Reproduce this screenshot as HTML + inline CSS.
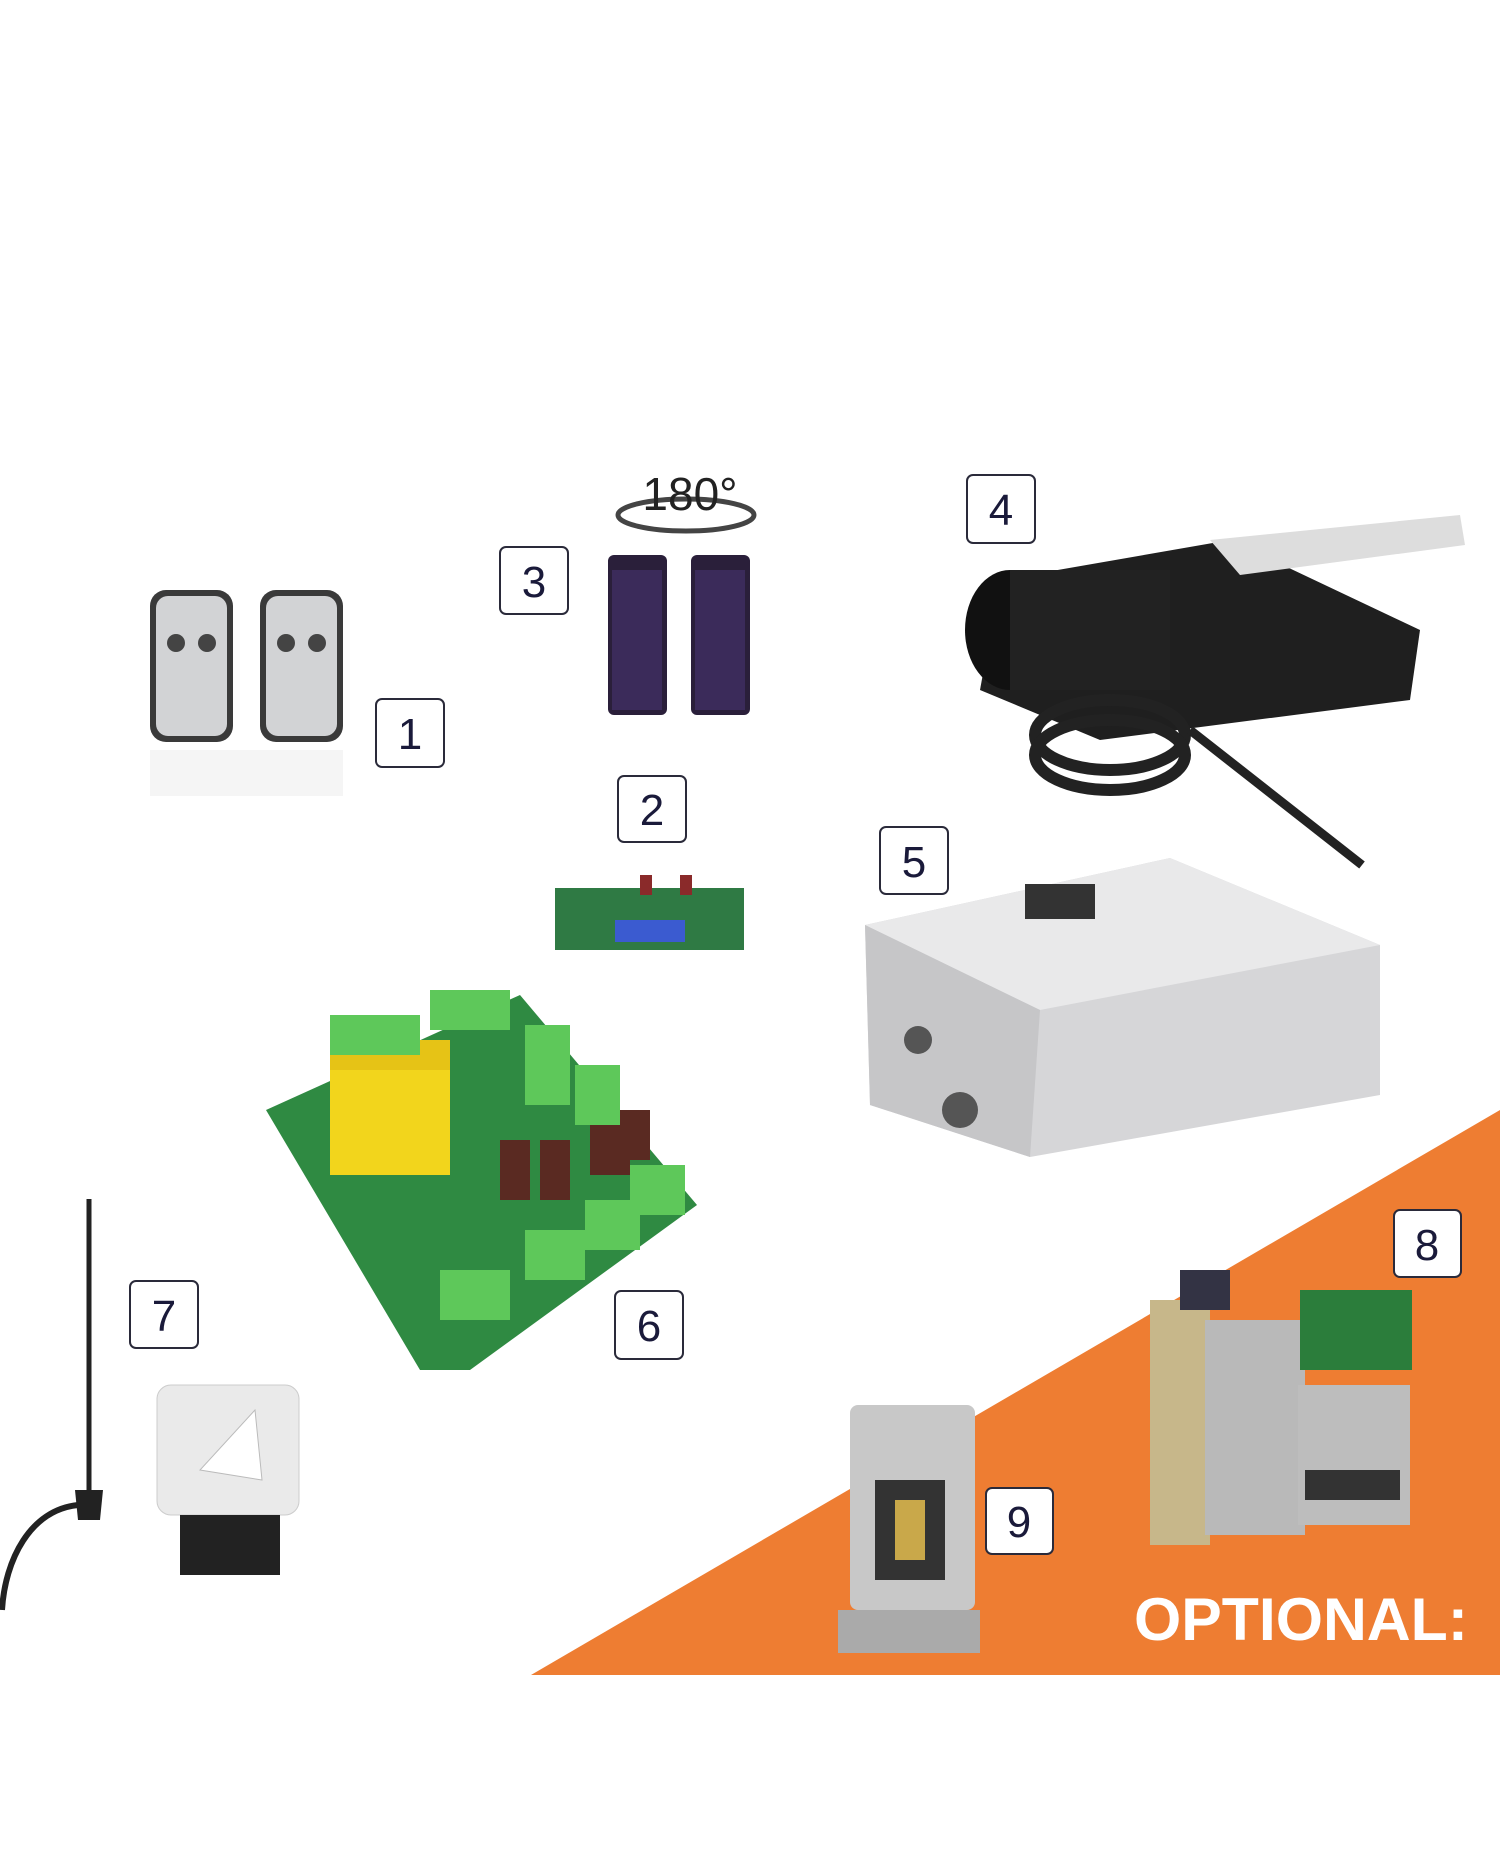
<!DOCTYPE html>
<html><head><meta charset="utf-8"><style>
html,body{margin:0;padding:0;background:#fff;}
svg{display:block}
.n{font-family:"Liberation Sans",sans-serif;font-size:44px;fill:#1a1a3a;text-anchor:middle}
</style></head><body>
<svg width="1500" height="1852" viewBox="0 0 1500 1852" xmlns="http://www.w3.org/2000/svg">
<rect width="1500" height="1852" fill="#fff"/>
<polygon points="531,1675 1500,1110 1500,1675" fill="#ee7d32"/>
<text x="1134" y="1640" font-family="Liberation Sans,sans-serif" font-weight="bold" font-size="60" fill="#fff" textLength="334" lengthAdjust="spacingAndGlyphs">OPTIONAL:</text>

<g>
<rect x="150" y="590" width="83" height="152" rx="16" fill="#3a3a3a"/>
<rect x="156" y="596" width="71" height="140" rx="12" fill="#d2d3d5"/>
<circle cx="176" cy="643" r="9" fill="#444"/><circle cx="207" cy="643" r="9" fill="#444"/>
<rect x="260" y="590" width="83" height="152" rx="16" fill="#3a3a3a"/>
<rect x="266" y="596" width="71" height="140" rx="12" fill="#d2d3d5"/>
<circle cx="286" cy="643" r="9" fill="#444"/><circle cx="317" cy="643" r="9" fill="#444"/>
<rect x="150" y="750" width="193" height="46" fill="#eee" opacity="0.6"/>
</g>

<ellipse cx="686" cy="515" rx="68" ry="16" fill="none" stroke="#444" stroke-width="5"/>
<text x="690" y="510" font-family="Liberation Sans,sans-serif" font-size="46" fill="#222" text-anchor="middle">180°</text>
<rect x="608" y="555" width="59" height="160" rx="6" fill="#2a1f3a"/>
<rect x="691" y="555" width="59" height="160" rx="6" fill="#2a1f3a"/>
<rect x="612" y="570" width="50" height="140" fill="#3b2b5a"/>
<rect x="695" y="570" width="50" height="140" fill="#3b2b5a"/>

<rect x="555" y="888" width="189" height="62" fill="#2f7a44"/>
<rect x="615" y="920" width="70" height="22" fill="#3b5bd0"/>
<rect x="640" y="875" width="12" height="20" fill="#8a2a2a"/><rect x="680" y="875" width="12" height="20" fill="#8a2a2a"/>

<polygon points="1000,580 1230,540 1420,630 1410,700 1100,740 980,690" fill="#1f1f1f"/>
<ellipse cx="1010" cy="630" rx="45" ry="60" fill="#111"/>
<rect x="1010" y="570" width="160" height="120" fill="#222"/>
<polygon points="1210,540 1460,515 1465,545 1240,575" fill="#ddd"/>
<ellipse cx="1110" cy="735" rx="75" ry="35" fill="none" stroke="#222" stroke-width="12"/>
<ellipse cx="1110" cy="755" rx="75" ry="35" fill="none" stroke="#222" stroke-width="12"/>
<line x1="1190" y1="730" x2="1362" y2="865" stroke="#222" stroke-width="9"/>

<polygon points="865,925 1170,858 1380,945 1380,1095 1030,1157 870,1105" fill="#d6d6d8"/>
<polygon points="865,925 1170,858 1380,945 1040,1010" fill="#e9e9ea"/>
<polygon points="865,925 1040,1010 1030,1157 870,1105" fill="#c6c6c8"/>
<circle cx="918" cy="1040" r="14" fill="#555"/><circle cx="960" cy="1110" r="18" fill="#555"/>
<rect x="1025" y="884" width="70" height="35" fill="#333"/>

<polygon points="266,1110 520,995 697,1205 470,1370 420,1370" fill="#2f8a42"/>
<rect x="330" y="1040" width="120" height="135" fill="#f2d51c"/>
<rect x="330" y="1040" width="120" height="30" fill="#e6c316"/>
<g fill="#5ec85a">
<rect x="330" y="1015" width="90" height="40"/><rect x="430" y="990" width="80" height="40"/>
<rect x="525" y="1025" width="45" height="80"/><rect x="575" y="1065" width="45" height="60"/>
<rect x="525" y="1230" width="60" height="50"/><rect x="585" y="1200" width="55" height="50"/>
<rect x="630" y="1165" width="55" height="50"/><rect x="440" y="1270" width="70" height="50"/>
</g>
<g fill="#5a2a22"><rect x="500" y="1140" width="30" height="60"/><rect x="540" y="1140" width="30" height="60"/><rect x="590" y="1125" width="40" height="50"/><rect x="620" y="1110" width="30" height="50"/></g>

<line x1="89" y1="1199" x2="89" y2="1490" stroke="#222" stroke-width="5"/>
<path d="M75,1490 L103,1490 L100,1520 L78,1520 Z" fill="#222"/>
<path d="M78,1505 C30,1510 5,1560 2,1610" stroke="#222" stroke-width="6" fill="none"/>

<rect x="157" y="1385" width="142" height="130" rx="14" fill="#eaeaea" stroke="#ccc"/>
<polygon points="255,1410 262,1480 200,1470" fill="#fff" stroke="#bbb"/>
<rect x="180" y="1515" width="100" height="60" fill="#222"/>

<rect x="1150" y="1300" width="60" height="245" fill="#c7b78a"/>
<rect x="1205" y="1320" width="100" height="215" fill="#b9b9b9"/>
<rect x="1180" y="1270" width="50" height="40" fill="#334"/>
<rect x="1300" y="1290" width="112" height="80" fill="#2b7d3b"/>
<rect x="1298" y="1385" width="112" height="140" fill="#bdbdbd"/>
<rect x="1305" y="1470" width="95" height="30" fill="#333"/>

<rect x="850" y="1405" width="125" height="205" rx="8" fill="#c8c8c8"/>
<rect x="875" y="1480" width="70" height="100" fill="#333"/>
<rect x="895" y="1500" width="30" height="60" fill="#c9a84a"/>
<rect x="838" y="1610" width="142" height="43" fill="#aaa"/>

<g fill="#fff" stroke="#2a2a3a" stroke-width="2">
<rect x="376" y="699" width="68" height="68" rx="6"/>
<rect x="618" y="776" width="68" height="66" rx="6"/>
<rect x="500" y="547" width="68" height="67" rx="6"/>
<rect x="967" y="475" width="68" height="68" rx="6"/>
<rect x="880" y="827" width="68" height="67" rx="6"/>
<rect x="615" y="1291" width="68" height="68" rx="6"/>
<rect x="130" y="1281" width="68" height="67" rx="6"/>
<rect x="1394" y="1210" width="67" height="67" rx="6"/>
<rect x="986" y="1488" width="67" height="66" rx="6"/>
</g>
<text class="n" x="410" y="749">1</text>
<text class="n" x="652" y="825">2</text>
<text class="n" x="534" y="597">3</text>
<text class="n" x="1001" y="525">4</text>
<text class="n" x="914" y="877">5</text>
<text class="n" x="649" y="1341">6</text>
<text class="n" x="164" y="1331">7</text>
<text class="n" x="1427" y="1260">8</text>
<text class="n" x="1019" y="1537">9</text>
</svg>
</body></html>
